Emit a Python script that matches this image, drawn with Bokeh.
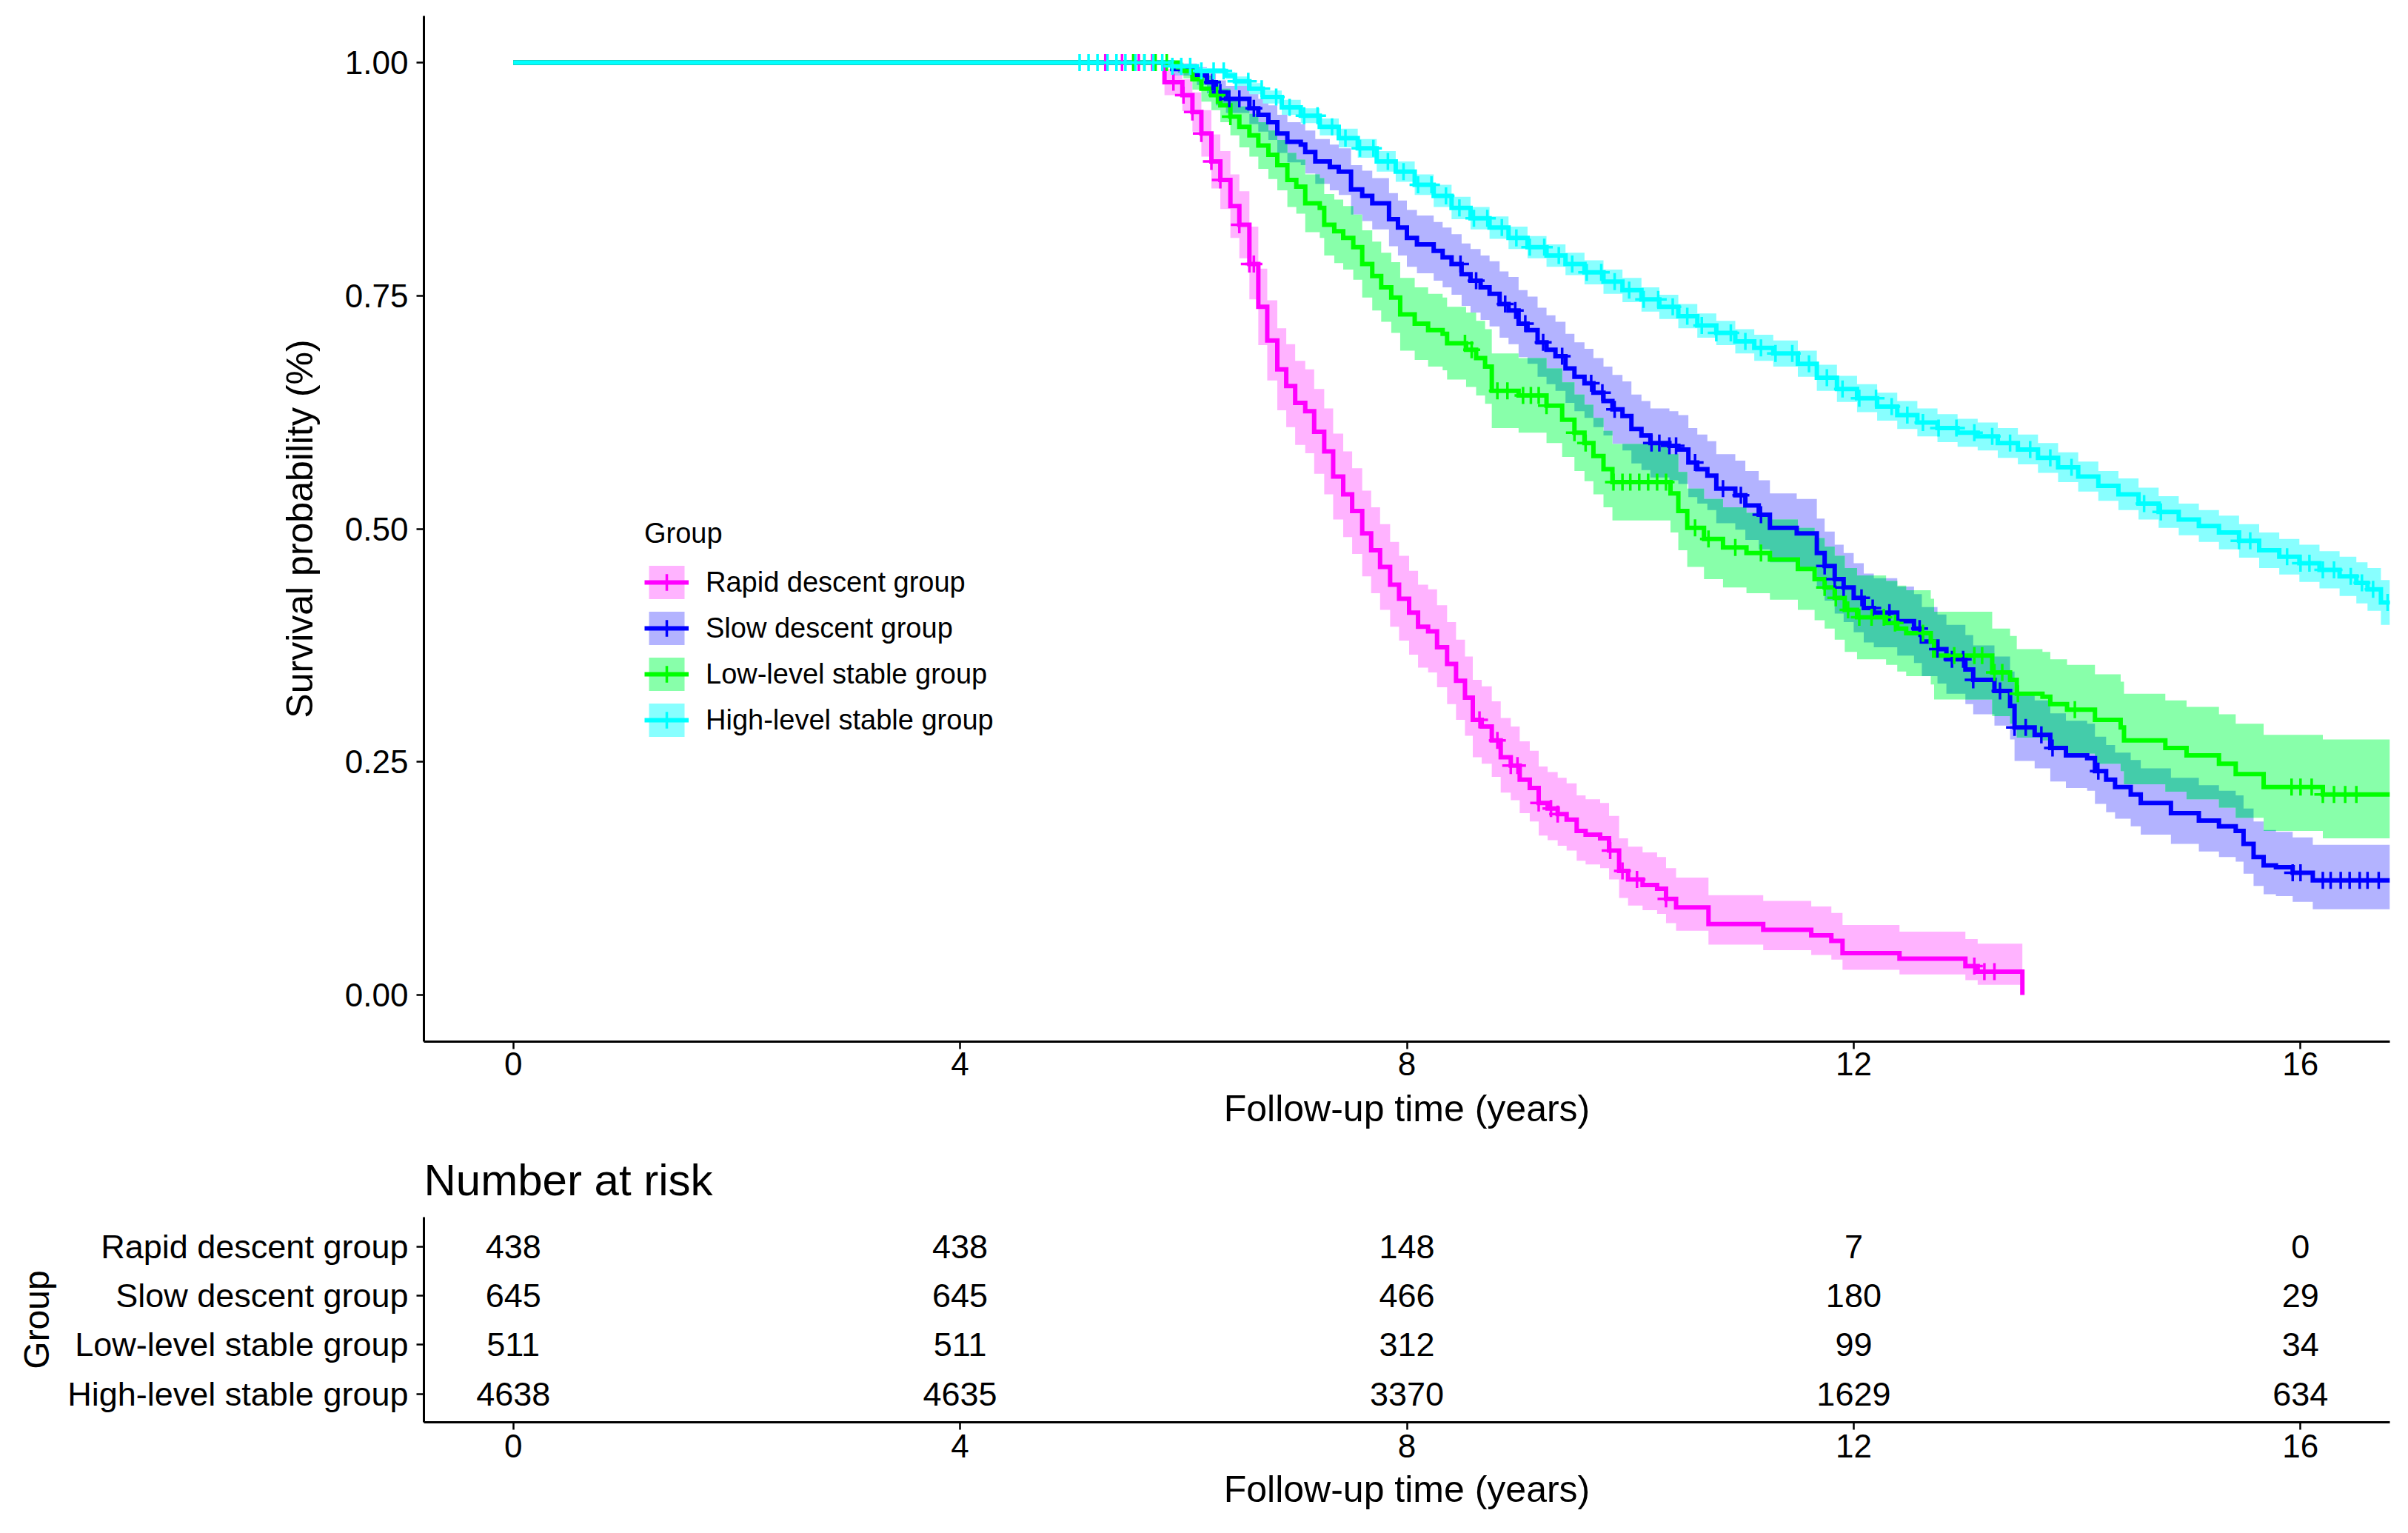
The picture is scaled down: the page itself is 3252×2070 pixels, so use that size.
import numpy as np
from bokeh.plotting import figure
from bokeh.models import Range1d, FixedTicker, Legend, LegendItem, NumeralTickFormatter
from bokeh.layouts import column
from bokeh.embed import file_html
from bokeh.resources import INLINE
from bokeh.core.properties import value

FONT = "Liberation Sans"

groups = ["Rapid descent group", "Slow descent group", "Low-level stable group", "High-level stable group"]
line_colors = ["#FF00FF", "#0000FF", "#00FF00", "#00FFFF"]
band_colors = ["#FFB3FF", "#B3B3FF", "#88FFAA", "#88FFFF"]
overlap_color = "#44CCAA"

# ---------------- Rapid descent group ----------------
rapid_t = [0, 5.83, 5.99, 6.08, 6.16, 6.25, 6.33, 6.42, 6.50, 6.59, 6.67, 6.75, 6.84, 6.92, 7.00, 7.09, 7.17, 7.26, 7.34, 7.43, 7.51, 7.60, 7.68, 7.76, 7.85, 7.93, 8.02, 8.10, 8.19, 8.27, 8.36, 8.44, 8.52, 8.59, 8.67, 8.76, 8.84, 8.93, 9.01, 9.10, 9.18, 9.26, 9.35, 9.43, 9.52, 9.60, 9.73, 9.81, 9.90, 9.98, 10.11, 10.24, 10.32, 10.41, 10.70, 11.19, 11.62, 11.80, 11.90, 12.41, 13.00, 13.11, 13.51]
rapid_s = [1.0, 0.979, 0.965, 0.947, 0.924, 0.894, 0.874, 0.846, 0.826, 0.784, 0.738, 0.702, 0.671, 0.653, 0.635, 0.626, 0.604, 0.583, 0.556, 0.537, 0.519, 0.495, 0.477, 0.459, 0.440, 0.425, 0.410, 0.395, 0.390, 0.373, 0.355, 0.337, 0.319, 0.295, 0.288, 0.273, 0.255, 0.246, 0.231, 0.222, 0.206, 0.200, 0.194, 0.188, 0.176, 0.172, 0.168, 0.155, 0.133, 0.124, 0.118, 0.114, 0.103, 0.094, 0.076, 0.070, 0.064, 0.058, 0.045, 0.039, 0.031, 0.025, 0.0]
rapid_lo = [1.0, 0.965, 0.948, 0.926, 0.899, 0.865, 0.843, 0.812, 0.790, 0.746, 0.697, 0.659, 0.627, 0.609, 0.590, 0.581, 0.559, 0.537, 0.510, 0.491, 0.473, 0.449, 0.431, 0.413, 0.395, 0.380, 0.365, 0.351, 0.346, 0.330, 0.312, 0.295, 0.278, 0.255, 0.248, 0.234, 0.217, 0.209, 0.195, 0.186, 0.171, 0.166, 0.160, 0.155, 0.144, 0.140, 0.136, 0.124, 0.104, 0.096, 0.091, 0.087, 0.077, 0.069, 0.054, 0.048, 0.043, 0.038, 0.027, 0.022, 0.016, 0.011, 0.011]
rapid_hi = [1.0, 0.993, 0.982, 0.968, 0.949, 0.923, 0.905, 0.880, 0.862, 0.824, 0.779, 0.745, 0.715, 0.698, 0.680, 0.671, 0.650, 0.629, 0.602, 0.583, 0.565, 0.541, 0.523, 0.505, 0.486, 0.471, 0.455, 0.440, 0.435, 0.418, 0.400, 0.381, 0.363, 0.338, 0.331, 0.315, 0.297, 0.288, 0.272, 0.262, 0.245, 0.239, 0.233, 0.227, 0.214, 0.210, 0.206, 0.192, 0.168, 0.159, 0.153, 0.148, 0.136, 0.126, 0.107, 0.101, 0.095, 0.088, 0.075, 0.068, 0.060, 0.055, 0.055]
rapid_cens = [5.30, 5.45, 5.60, 5.72, 5.91, 6.00, 6.08, 6.16, 6.25, 6.33, 6.50, 6.59, 6.63, 8.65, 8.81, 8.93, 8.99, 9.18, 9.29, 9.35, 9.82, 9.93, 10.06, 10.32, 13.08, 13.17, 13.26]

# ---------------- Slow descent group ----------------
slow_t = [0, 5.90, 6.12, 6.21, 6.29, 6.38, 6.59, 6.67, 6.76, 6.84, 6.93, 7.05, 7.09, 7.18, 7.31, 7.39, 7.50, 7.60, 7.69, 7.84, 7.92, 8.00, 8.09, 8.24, 8.32, 8.40, 8.49, 8.57, 8.66, 8.74, 8.83, 8.91, 9.00, 9.08, 9.17, 9.25, 9.33, 9.42, 9.50, 9.59, 9.67, 9.76, 9.84, 9.93, 10.01, 10.10, 10.18, 10.35, 10.43, 10.52, 10.60, 10.69, 10.77, 10.94, 11.03, 11.15, 11.25, 11.49, 11.67, 11.74, 11.83, 11.91, 12.00, 12.09, 12.18, 12.39, 12.54, 12.61, 12.75, 12.83, 13.00, 13.07, 13.26, 13.40, 13.44, 13.62, 13.76, 13.90, 14.09, 14.16, 14.26, 14.34, 14.48, 14.57, 14.84, 15.09, 15.27, 15.42, 15.49, 15.58, 15.67, 15.78, 15.93, 16.11, 16.80]
slow_s = [1.0, 0.993, 0.986, 0.979, 0.968, 0.961, 0.951, 0.944, 0.936, 0.924, 0.915, 0.912, 0.904, 0.894, 0.888, 0.883, 0.864, 0.857, 0.849, 0.832, 0.823, 0.812, 0.805, 0.798, 0.791, 0.784, 0.773, 0.766, 0.759, 0.752, 0.741, 0.734, 0.720, 0.713, 0.700, 0.692, 0.685, 0.672, 0.663, 0.656, 0.646, 0.637, 0.628, 0.621, 0.607, 0.600, 0.592, 0.589, 0.585, 0.571, 0.564, 0.557, 0.543, 0.536, 0.525, 0.515, 0.501, 0.495, 0.474, 0.460, 0.446, 0.437, 0.426, 0.415, 0.410, 0.401, 0.393, 0.379, 0.371, 0.360, 0.349, 0.338, 0.326, 0.310, 0.287, 0.279, 0.265, 0.257, 0.254, 0.240, 0.231, 0.223, 0.215, 0.206, 0.195, 0.187, 0.181, 0.176, 0.162, 0.148, 0.139, 0.137, 0.131, 0.123, 0.123]
slow_lo = [1.0, 0.986, 0.976, 0.967, 0.954, 0.946, 0.934, 0.926, 0.917, 0.903,
           0.893, 0.890, 0.881, 0.870, 0.863, 0.858, 0.837, 0.830, 0.821, 0.803,
           0.793, 0.781, 0.774, 0.766, 0.759, 0.751, 0.739, 0.732, 0.724, 0.717,
           0.705, 0.698, 0.684, 0.677, 0.663, 0.655, 0.648, 0.635, 0.626, 0.619,
           0.609, 0.600, 0.591, 0.584, 0.570, 0.563, 0.555, 0.552, 0.548, 0.534,
           0.527, 0.520, 0.506, 0.499, 0.488, 0.478, 0.464, 0.458, 0.437, 0.423,
           0.409, 0.400, 0.389, 0.378, 0.373, 0.364, 0.356, 0.342, 0.334, 0.323,
           0.312, 0.301, 0.289, 0.274, 0.251, 0.243, 0.229, 0.222, 0.219, 0.205,
           0.196, 0.189, 0.181, 0.172, 0.162, 0.154, 0.148, 0.143, 0.130, 0.117,
           0.108, 0.106, 0.100, 0.092, 0.092]
slow_hi = [1.0, 0.999, 0.995, 0.990, 0.981, 0.975, 0.967, 0.961, 0.954, 0.944,
           0.936, 0.934, 0.927, 0.918, 0.912, 0.908, 0.890, 0.884, 0.876, 0.860,
           0.852, 0.842, 0.836, 0.829, 0.823, 0.816, 0.806, 0.800, 0.793, 0.787,
           0.776, 0.770, 0.756, 0.749, 0.737, 0.729, 0.722, 0.709, 0.700, 0.693,
           0.683, 0.674, 0.665, 0.658, 0.644, 0.637, 0.629, 0.626, 0.622, 0.608,
           0.601, 0.594, 0.580, 0.573, 0.562, 0.552, 0.538, 0.532, 0.511, 0.497,
           0.483, 0.474, 0.463, 0.452, 0.447, 0.438, 0.430, 0.416, 0.408, 0.397,
           0.386, 0.375, 0.363, 0.347, 0.324, 0.316, 0.302, 0.294, 0.291, 0.277,
           0.268, 0.260, 0.252, 0.243, 0.233, 0.225, 0.219, 0.214, 0.200, 0.186,
           0.177, 0.175, 0.169, 0.161, 0.161]
slow_cens = [6.26, 6.33, 6.41, 6.50, 6.63, 8.48, 8.62, 8.88, 8.97, 9.06, 9.22, 9.39, 9.65, 9.75, 9.86, 10.19, 10.26, 10.35, 10.41, 10.58, 10.83, 10.99, 11.17, 11.74, 11.83, 11.91, 12.07, 12.17, 12.32, 12.59, 12.75, 12.88, 12.98, 13.07, 13.31, 13.44, 13.54, 13.68, 13.78, 14.19, 15.93, 16.00, 16.20, 16.27, 16.36, 16.44, 16.53, 16.60, 16.70]

# ---------------- Low-level stable group ----------------
low_t = [0, 5.95, 6.00, 6.08, 6.16, 6.25, 6.33, 6.42, 6.50, 6.59, 6.67, 6.76, 6.84, 6.93, 7.01, 7.09, 7.22, 7.26, 7.35, 7.43, 7.52, 7.60, 7.69, 7.77, 7.86, 7.94, 8.07, 8.19, 8.32, 8.36, 8.53, 8.62, 8.70, 8.76, 9.00, 9.25, 9.39, 9.50, 9.59, 9.67, 9.76, 9.84, 10.36, 10.43, 10.51, 10.66, 10.83, 11.04, 11.25, 11.50, 11.65, 11.74, 11.83, 11.92, 12.03, 12.29, 12.39, 12.47, 12.69, 12.72, 13.24, 13.40, 13.46, 13.69, 13.76, 13.91, 14.16, 14.39, 14.42, 14.79, 14.98, 15.27, 15.42, 15.67, 16.20, 16.80]
low_s = [1.0, 0.995, 0.991, 0.982, 0.972, 0.965, 0.954, 0.942, 0.931, 0.922, 0.911, 0.901, 0.890, 0.874, 0.867, 0.849, 0.844, 0.826, 0.819, 0.812, 0.802, 0.784, 0.771, 0.759, 0.748, 0.730, 0.720, 0.713, 0.709, 0.699, 0.692, 0.683, 0.674, 0.648, 0.643, 0.632, 0.617, 0.603, 0.592, 0.578, 0.564, 0.550, 0.538, 0.519, 0.501, 0.489, 0.480, 0.474, 0.467, 0.457, 0.446, 0.437, 0.426, 0.413, 0.405, 0.399, 0.393, 0.388, 0.379, 0.364, 0.346, 0.338, 0.323, 0.320, 0.312, 0.306, 0.295, 0.287, 0.273, 0.265, 0.257, 0.248, 0.237, 0.223, 0.215, 0.215]
low_lo = [1.0, 0.989, 0.983, 0.971, 0.958, 0.949, 0.936, 0.922, 0.909, 0.899,
          0.886, 0.875, 0.863, 0.845, 0.838, 0.818, 0.812, 0.793, 0.785, 0.778,
          0.767, 0.748, 0.734, 0.722, 0.710, 0.691, 0.681, 0.674, 0.670, 0.660,
          0.652, 0.643, 0.634, 0.608, 0.603, 0.592, 0.577, 0.562, 0.551, 0.537,
          0.523, 0.509, 0.496, 0.477, 0.459, 0.446, 0.437, 0.431, 0.424, 0.413,
          0.402, 0.393, 0.381, 0.368, 0.360, 0.354, 0.347, 0.342, 0.333, 0.317,
          0.299, 0.291, 0.276, 0.273, 0.265, 0.259, 0.248, 0.240, 0.226, 0.218,
          0.210, 0.201, 0.190, 0.176, 0.168, 0.168]
low_hi = [1.0, 1.0, 0.998, 0.993, 0.986, 0.981, 0.972, 0.962, 0.953, 0.945,
          0.936, 0.927, 0.917, 0.903, 0.896, 0.880, 0.876, 0.859, 0.853, 0.846,
          0.837, 0.820, 0.808, 0.796, 0.786, 0.769, 0.759, 0.752, 0.748, 0.738,
          0.732, 0.723, 0.714, 0.688, 0.683, 0.672, 0.657, 0.644, 0.633, 0.619,
          0.605, 0.591, 0.580, 0.561, 0.543, 0.532, 0.523, 0.517, 0.510, 0.501,
          0.490, 0.481, 0.471, 0.458, 0.450, 0.444, 0.439, 0.434, 0.425, 0.411,
          0.393, 0.385, 0.371, 0.368, 0.360, 0.354, 0.344, 0.336, 0.323, 0.316,
          0.309, 0.301, 0.291, 0.279, 0.274, 0.274]
low_cens = [5.55, 5.65, 5.75, 5.85, 6.30, 6.42, 8.52, 8.58, 8.81, 8.90, 9.04, 9.11, 9.18, 9.25, 9.50, 9.60, 9.85, 9.93, 10.00, 10.08, 10.16, 10.24, 10.32, 10.58, 10.70, 10.94, 11.17, 11.74, 11.84, 11.95, 12.05, 12.16, 12.27, 12.37, 12.62, 12.90, 13.08, 13.15, 13.26, 13.33, 13.47, 13.98, 15.92, 16.00, 16.10, 16.20, 16.30, 16.40, 16.50]

# ---------------- High-level stable group ----------------
high_t = [0, 5.90, 6.12, 6.38, 6.46, 6.59, 6.71, 6.88, 7.05, 7.22, 7.39, 7.56, 7.73, 7.90, 8.07, 8.24, 8.40, 8.57, 8.74, 8.91, 9.08, 9.25, 9.42, 9.59, 9.76, 9.93, 10.10, 10.26, 10.43, 10.60, 10.77, 10.94, 11.11, 11.28, 11.50, 11.67, 11.85, 12.03, 12.21, 12.39, 12.57, 12.75, 12.93, 13.11, 13.29, 13.47, 13.65, 13.83, 14.01, 14.19, 14.37, 14.55, 14.73, 14.91, 15.09, 15.27, 15.45, 15.63, 15.81, 15.99, 16.17, 16.35, 16.50, 16.60, 16.72, 16.80]
high_s = [1.0, 0.996, 0.991, 0.986, 0.980, 0.972, 0.963, 0.952, 0.943, 0.931, 0.919, 0.908, 0.894, 0.883, 0.869, 0.857, 0.844, 0.833, 0.823, 0.812, 0.802, 0.793, 0.784, 0.775, 0.765, 0.756, 0.746, 0.738, 0.728, 0.718, 0.710, 0.701, 0.694, 0.688, 0.677, 0.662, 0.650, 0.640, 0.631, 0.622, 0.614, 0.608, 0.603, 0.599, 0.592, 0.585, 0.576, 0.566, 0.556, 0.546, 0.537, 0.527, 0.518, 0.510, 0.503, 0.496, 0.487, 0.477, 0.470, 0.463, 0.456, 0.449, 0.442, 0.435, 0.421, 0.421]
high_lo = [1.0, 0.994, 0.988, 0.982, 0.975, 0.966, 0.956, 0.944, 0.935, 0.922,
           0.909, 0.898, 0.883, 0.872, 0.858, 0.845, 0.832, 0.821, 0.811, 0.800,
           0.790, 0.781, 0.772, 0.762, 0.752, 0.743, 0.733, 0.725, 0.715, 0.705,
           0.697, 0.688, 0.680, 0.674, 0.663, 0.648, 0.636, 0.625, 0.616, 0.607,
           0.599, 0.593, 0.588, 0.584, 0.576, 0.569, 0.560, 0.550, 0.540, 0.530,
           0.520, 0.510, 0.501, 0.493, 0.486, 0.478, 0.469, 0.458, 0.451, 0.443,
           0.436, 0.428, 0.420, 0.412, 0.397, 0.397]
high_hi = [1.0, 0.998, 0.994, 0.990, 0.985, 0.978, 0.970, 0.960, 0.951, 0.940,
           0.929, 0.918, 0.905, 0.894, 0.880, 0.869, 0.856, 0.845, 0.835, 0.824,
           0.814, 0.805, 0.796, 0.788, 0.778, 0.769, 0.759, 0.751, 0.741, 0.731,
           0.723, 0.714, 0.708, 0.702, 0.691, 0.676, 0.664, 0.655, 0.646, 0.637,
           0.629, 0.623, 0.618, 0.614, 0.608, 0.601, 0.592, 0.582, 0.572, 0.562,
           0.554, 0.544, 0.535, 0.527, 0.520, 0.514, 0.505, 0.496, 0.489, 0.483,
           0.476, 0.470, 0.464, 0.458, 0.445, 0.445]
high_cens = [5.07, 5.15, 5.23, 5.32, 5.40, 5.48, 5.57, 5.65, 5.73, 5.81, 5.90, 5.98,
             6.06, 6.16, 6.27, 6.36, 6.47, 6.58, 6.70, 6.83, 6.95, 7.08, 7.20, 7.33, 7.45, 7.58, 7.70, 7.83, 7.97,
             8.10, 8.22, 8.35, 8.47, 8.60, 8.72, 8.85, 8.98, 9.10, 9.23, 9.36, 9.48, 9.61, 9.74, 9.86, 9.99,
             10.12, 10.25, 10.38, 10.51, 10.64, 10.77, 10.90, 11.03, 11.17, 11.30, 11.45, 11.60, 11.76, 11.90,
             12.05, 12.20, 12.34, 12.48, 12.62, 12.76, 12.92, 13.08, 13.24, 13.40, 13.58, 13.76, 13.95,
             14.60, 14.75, 15.45, 15.55, 15.88, 16.00, 16.08, 16.20, 16.30, 16.45, 16.55, 16.65, 16.78]

# ---------------- Number at risk ----------------
risk_times = [0, 4, 8, 12, 16]
risk_rapid = [438, 438, 148, 7, 0]
risk_slow = [645, 645, 466, 180, 29]
risk_low = [511, 511, 312, 99, 34]
risk_high = [4638, 4635, 3370, 1629, 634]

x_ticks = [0, 4, 8, 12, 16]
y_ticks = [0, 0.25, 0.5, 0.75, 1.0]

series = [
    (rapid_t, rapid_s, rapid_lo, rapid_hi, rapid_cens),
    (slow_t, slow_s, slow_lo, slow_hi, slow_cens),
    (low_t, low_s, low_lo, low_hi, low_cens),
    (high_t, high_s, high_lo, high_hi, high_cens),
]


def step_value(ts, vs, t):
    ts = np.asarray(ts)
    idx = np.searchsorted(ts, np.asarray(t), side="right") - 1
    idx = np.clip(idx, 0, len(vs) - 1)
    return np.asarray(vs)[idx]


def style_axis(ax, label_size="44px", title_size="50px"):
    ax.axis_line_width = 3
    ax.axis_line_color = "black"
    ax.major_tick_line_width = 2.5
    ax.major_tick_line_color = "black"
    ax.major_tick_in = 0
    ax.major_tick_out = 10
    ax.minor_tick_line_color = None
    ax.major_label_text_font = FONT
    ax.major_label_text_font_size = label_size
    ax.major_label_text_color = "black"
    ax.axis_label_text_font = FONT
    ax.axis_label_text_font_size = title_size
    ax.axis_label_text_font_style = "normal"
    ax.axis_label_text_color = "black"


W = 3244
p1 = figure(width=W, height=1540, x_range=Range1d(-0.8, 16.8), y_range=Range1d(-0.05, 1.05),
            output_backend="svg", toolbar_location=None,
            min_border_left=572, min_border_right=17, min_border_top=21, min_border_bottom=134)
p1.outline_line_color = None
p1.grid.visible = False
p1.background_fill_color = "white"
p1.border_fill_color = "white"

band_renderers = []
line_renderers = []
mark_renderers = []

# confidence bands
for (t, s, lo, hi, c), bc in zip(series, band_colors):
    r = p1.varea_step(x=t, y1=lo, y2=hi, step_mode="after", fill_color=bc, fill_alpha=1.0)
    band_renderers.append(r)

# overlap of the Slow and Low-level bands
ot = np.union1d(np.asarray(slow_t), np.asarray(low_t))
ot = ot[ot <= 16.8]
o_lo = np.maximum(step_value(slow_t, slow_lo, ot), step_value(low_t, low_lo, ot))
o_hi = np.minimum(step_value(slow_t, slow_hi, ot), step_value(low_t, low_hi, ot))
o_hi = np.maximum(o_hi, o_lo)
p1.varea_step(x=ot, y1=o_lo, y2=o_hi, step_mode="after", fill_color=overlap_color, fill_alpha=1.0)

# survival curves
for (t, s, lo, hi, c), lc in zip(series, line_colors):
    r = p1.step(x=t, y=s, mode="after", line_color=lc, line_width=6, line_join="miter")
    line_renderers.append(r)

# censor marks
for (t, s, lo, hi, c), lc in zip(series, line_colors):
    cy = step_value(t, s, c)
    r = p1.scatter(x=c, y=cy, marker="cross", size=23, line_color=lc, line_width=3.5)
    mark_renderers.append(r)

style_axis(p1.xaxis[0])
style_axis(p1.yaxis[0])
p1.xaxis.ticker = FixedTicker(ticks=x_ticks)
p1.yaxis.ticker = FixedTicker(ticks=y_ticks)
p1.yaxis.formatter = NumeralTickFormatter(format="0.00")
p1.xaxis.axis_label = "Follow-up time (years)"
p1.yaxis.axis_label = "Survival probability (%)"
p1.xaxis.major_label_standoff = 4
p1.xaxis.axis_label_standoff = 14
p1.yaxis.major_label_standoff = 11
p1.yaxis.axis_label_standoff = 30

items = [LegendItem(label=g, renderers=[b, l, m])
         for g, b, l, m in zip(groups, band_renderers, line_renderers, mark_renderers)]
legend = Legend(items=items, location=(298, 406), title="Group",
                title_text_font=FONT, title_text_font_size="38px", title_text_font_style="normal",
                title_text_color="black",
                label_text_font=FONT, label_text_font_size="38px", label_text_color="black",
                glyph_width=60, glyph_height=56, label_height=56, spacing=6,
                padding=0, margin=0, border_line_color=None, background_fill_alpha=0,
                label_standoff=23, title_standoff=16)
p1.add_layout(legend)

# ---------------- risk table ----------------
p2 = figure(width=W, height=522, x_range=Range1d(-0.8, 16.8), y_range=Range1d(0.42, 4.6),
            output_backend="svg", toolbar_location=None,
            min_border_left=572, min_border_right=17, min_border_top=102, min_border_bottom=142)
p2.outline_line_color = None
p2.grid.visible = False
p2.title.text = "Number at risk"
p2.title.text_font = FONT
p2.title.text_font_size = "60px"
p2.title.text_font_style = "normal"
p2.title.text_color = "black"
p2.title.align = "left"
p2.title.standoff = 34

row_pos = [4, 3, 2, 1]
risk_rows = [risk_rapid, risk_slow, risk_low, risk_high]
tx, ty, tt = [], [], []
for rp, vals in zip(row_pos, risk_rows):
    for tm, v in zip(risk_times, vals):
        tx.append(tm)
        ty.append(rp)
        tt.append(str(v))
p2.text(x=tx, y=ty, text=tt, text_font=value(FONT), text_font_size=value("45px"),
        text_align="center", text_baseline="middle", text_color="black")

style_axis(p2.xaxis[0])
style_axis(p2.yaxis[0], label_size="45px", title_size="48px")
p2.xaxis.ticker = FixedTicker(ticks=x_ticks)
p2.yaxis.ticker = FixedTicker(ticks=row_pos)
p2.yaxis.major_label_overrides = {4: groups[0], 3: groups[1], 2: groups[2], 1: groups[3]}
p2.xaxis.axis_label = "Follow-up time (years)"
p2.yaxis.axis_label = "Group"
p2.xaxis.major_label_standoff = 6
p2.xaxis.axis_label_standoff = 12
p2.yaxis.major_label_standoff = 11
p2.yaxis.axis_label_standoff = 12

layout = column(p1, p2)
open("out.html", "w").write(file_html(layout, INLINE))
